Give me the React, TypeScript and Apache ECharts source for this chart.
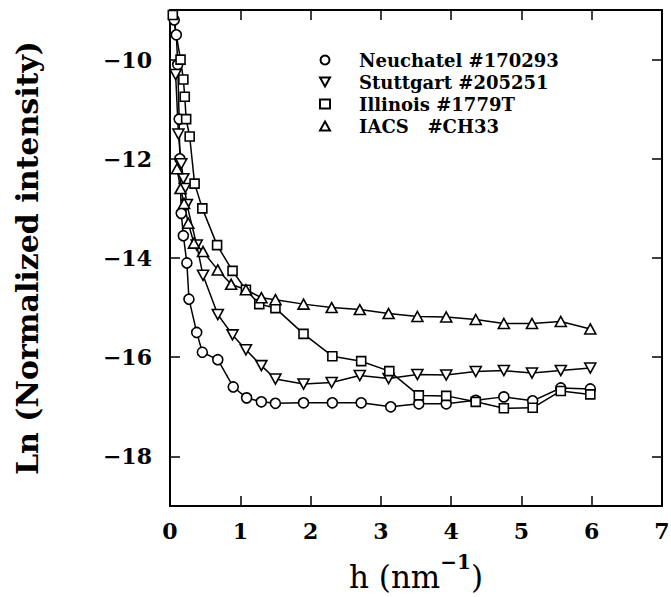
import React, { useEffect, useRef } from "react";
import * as echarts from "echarts";

const neuH = [0.06, 0.09, 0.11, 0.13, 0.14, 0.16, 0.19, 0.24, 0.27, 0.38, 0.46, 0.68, 0.9, 1.09, 1.3, 1.5, 1.9, 2.31, 2.72, 3.14, 3.54, 3.93, 4.35, 4.75, 5.16, 5.56, 5.98];
const neuV = [-9.2, -9.5, -10.1, -11.2, -12.0, -13.1, -13.55, -14.1, -14.83, -15.5, -15.9, -16.05, -16.6, -16.82, -16.9, -16.93, -16.92, -16.92, -16.92, -17.0, -16.94, -16.94, -16.87, -16.8, -16.88, -16.62, -16.64];

const stuH = [0.08, 0.12, 0.16, 0.19, 0.21, 0.24, 0.38, 0.47, 0.68, 0.89, 1.08, 1.3, 1.5, 1.9, 2.3, 2.7, 3.11, 3.52, 3.93, 4.35, 4.75, 5.15, 5.56, 5.98];
const stuV = [-10.3, -11.5, -12.1, -12.4, -12.6, -12.92, -13.74, -14.35, -15.14, -15.55, -15.85, -16.17, -16.44, -16.54, -16.51, -16.37, -16.43, -16.35, -16.36, -16.29, -16.27, -16.32, -16.27, -16.22];

const illH = [0.04, 0.15, 0.19, 0.21, 0.23, 0.28, 0.35, 0.46, 0.67, 0.89, 1.08, 1.27, 1.5, 1.9, 2.31, 2.72, 3.12, 3.54, 3.93, 4.35, 4.75, 5.16, 5.56, 5.98];
const illV = [-9.1, -10.0, -10.4, -10.75, -11.2, -11.55, -12.5, -13.0, -13.74, -14.26, -14.64, -14.93, -15.01, -15.53, -15.98, -16.08, -16.28, -16.77, -16.78, -16.9, -17.03, -17.02, -16.68, -16.75];

const iacH = [0.1, 0.15, 0.2, 0.26, 0.34, 0.47, 0.68, 0.87, 1.08, 1.3, 1.5, 1.9, 2.3, 2.7, 3.11, 3.52, 3.93, 4.35, 4.75, 5.15, 5.56, 5.98];
const iacV = [-12.2, -12.6, -12.9, -13.3, -13.7, -13.87, -14.24, -14.53, -14.64, -14.8, -14.84, -14.93, -15.0, -15.04, -15.12, -15.18, -15.19, -15.24, -15.32, -15.32, -15.28, -15.43];

const seriesNames = ["Neuchatel #170293", "Stuttgart #205251", "Illinois #1779T", "IACS\u00a0\u00a0\u00a0#CH33"];
const yTicks = [-18, -16, -14, -12, -10];
const xTicks = [0, 1, 2, 3, 4, 5, 6, 7];

const FONT = "DejaVu Serif";
const DOWN_TRI = "path://M0,0L10,0L5,9Z";
const UP_TRI = "path://M5,0L10,9L0,9Z";

const zip = (a: number[], b: number[]) => a.map((x, i) => [x, b[i]]);

export default function App() {
  const ref = useRef<HTMLDivElement>(null);
  useEffect(() => {
    if (!ref.current) return;
    const chart = echarts.init(ref.current, undefined, { renderer: "svg" });
    const mk = (name: string, data: number[][], symbol: string, size: number | number[]) => ({
      name,
      type: "line",
      data,
      symbol,
      symbolSize: size,
      showSymbol: true,
      lineStyle: { color: "#000", width: 1.5 },
      itemStyle: { color: "#fff", borderColor: "#000", borderWidth: 1.6 },
      emphasis: { disabled: true },
    });
    const axisLine = { show: true, onZero: false, lineStyle: { color: "#000", width: 2 } };
    chart.setOption({
      animation: false,
      backgroundColor: "#fff",
      grid: { left: 170, right: 9, top: 10, bottom: 91, containLabel: false, outerBoundsMode: "none" },
      legend: {
        orient: "vertical",
        left: 314,
        top: 46,
        itemWidth: 10,
        itemHeight: 9,
        itemGap: 4,
        selectedMode: false,
        textStyle: { fontFamily: FONT, fontWeight: "bold", fontSize: 18, lineHeight: 18, color: "#000", padding: [0, 0, 0, 24] },
        data: [
          { name: seriesNames[0], icon: "circle" },
          { name: seriesNames[1], icon: DOWN_TRI },
          { name: seriesNames[2], icon: "rect" },
          { name: seriesNames[3], icon: UP_TRI },
        ],
      },
      xAxis: [
        {
          type: "value",
          min: 0,
          max: 7,
          interval: 1,
          position: "bottom",
          axisLine,
          axisTick: { show: true, inside: true, length: 10, lineStyle: { color: "#000", width: 1.5 } },
          axisLabel: {
            margin: 14,
            fontFamily: FONT,
            fontWeight: "bold",
            fontSize: 22,
            color: "#000",
            customValues: xTicks,
          },
          splitLine: { show: false },
          name: "{a|h (nm}{s|\u22121}{a|)}",
          nameLocation: "middle",
          nameGap: 46,
          nameTextStyle: {
            rich: {
              a: { fontFamily: FONT, fontSize: 31, color: "#000", lineHeight: 40, verticalAlign: "bottom" },
              s: { fontFamily: FONT, fontSize: 20, fontWeight: "bold", color: "#000", lineHeight: 20, verticalAlign: "top" },
            },
          },
        },
        {
          type: "value",
          min: 0,
          max: 7,
          interval: 1,
          position: "top",
          axisLine,
          axisTick: { show: true, inside: true, length: 10, lineStyle: { color: "#000", width: 1.5 } },
          axisLabel: { show: false },
          splitLine: { show: false },
        },
      ],
      yAxis: [
        {
          type: "value",
          min: -19,
          max: -9,
          position: "left",
          axisLine,
          axisTick: { show: true, inside: true, length: 10, customValues: yTicks, lineStyle: { color: "#000", width: 1.5 } },
          axisLabel: {
            margin: 18,
            fontFamily: FONT,
            fontWeight: "bold",
            fontSize: 22,
            color: "#000",
            customValues: yTicks,
            formatter: (v: number) => (v < 0 ? "\u2212" + Math.abs(v) : String(v)),
          },
          splitLine: { show: false },
          name: "Ln (Normalized intensity)",
          nameLocation: "middle",
          nameGap: 128,
          nameRotate: 90,
          nameTextStyle: { fontFamily: FONT, fontSize: 30, fontWeight: "bold", color: "#000" },
        },
        {
          type: "value",
          min: -19,
          max: -9,
          position: "right",
          axisLine,
          axisTick: { show: true, inside: true, length: 10, customValues: yTicks, lineStyle: { color: "#000", width: 1.5 } },
          axisLabel: { show: false },
          splitLine: { show: false },
        },
      ],
      series: [
        mk(seriesNames[0], zip(neuH, neuV), "circle", 10),
        mk(seriesNames[1], zip(stuH, stuV), DOWN_TRI, [11, 10]),
        mk(seriesNames[2], zip(illH, illV), "rect", 9),
        mk(seriesNames[3], zip(iacH, iacV), UP_TRI, [11, 10]),
      ],
    });
    return () => chart.dispose();
  }, []);
  return (
    <div
      ref={ref}
      style={{ position: "fixed", left: 0, top: 0, width: 671, height: 597, background: "#fff" }}
    />
  );
}
